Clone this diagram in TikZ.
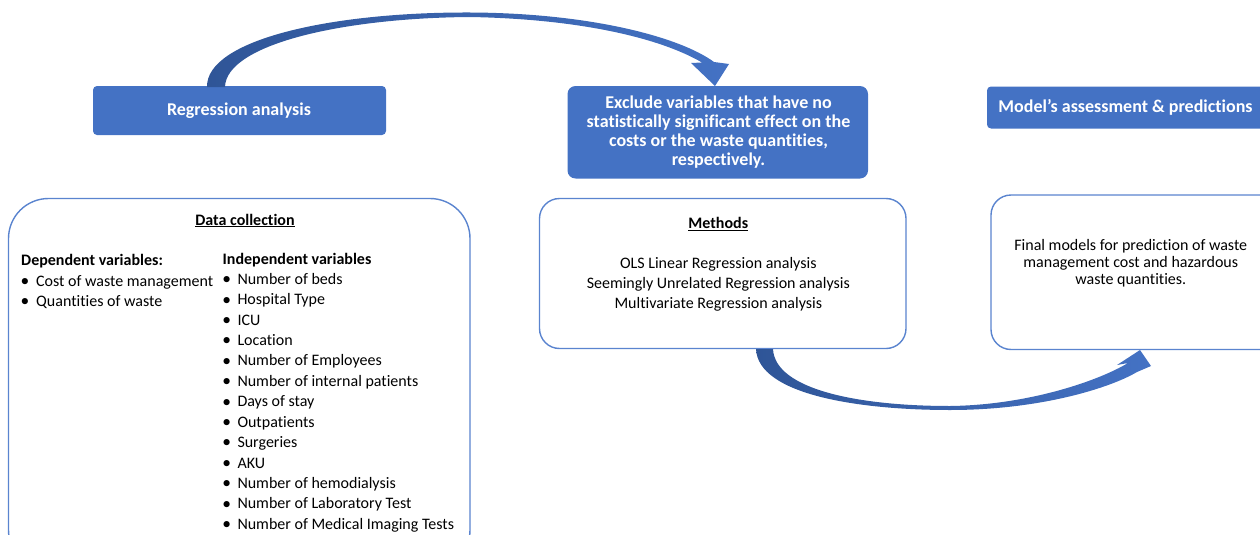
\documentclass[tikz,border=0pt]{standalone}
\usepackage{fontspec}
\setmainfont{Carlito}[Ligatures=NoCommon]
\definecolor{boxblue}{HTML}{4472C4}
\definecolor{lineblue}{HTML}{5A84CF}
\definecolor{arrdark}{HTML}{2F5597}
\definecolor{arrlight}{HTML}{4472C4}
\begin{document}
\begin{tikzpicture}[x=1pt,y=-1pt,
  fillbox/.style={fill=boxblue, draw=none, inner sep=0pt, outer sep=0pt},
  framebox/.style={draw=lineblue, line width=1.4pt, fill=white, inner sep=0pt},
  txt/.style={inner sep=0pt, anchor=base, font=\fontsize{16}{19}\selectfont},
  wtxt/.style={txt, text=white, font=\fontsize{18}{20}\selectfont\bfseries},
  ltxt/.style={txt, anchor=base west},
  bul/.style={txt, anchor=base, font=\fontsize{17.5}{19}\selectfont},
  blockarrow/.style={left color=arrdark, right color=arrlight, draw=none}
]
\useasboundingbox (0,0) rectangle (1260,535);
\clip (0,0) rectangle (1260,535);

% ---------- header boxes ----------
\node[fillbox, rounded corners=4pt, minimum width=293pt, minimum height=49pt] (reg) at (239.5,110.5) {};
\node[wtxt] (regt) at (239,115.5) {Regression analysis};

\node[fillbox, rounded corners=8pt, minimum width=300.5pt, minimum height=92.5pt] (excl) at (717.75,132.25) {};
\node[wtxt] (ex1) at (718.5,108.3) {Exclude variables that have no};
\node[wtxt] (ex2) at (718.5,127.5) {statistically significant effect on the};
\node[wtxt] (ex3) at (718.5,146.7) {costs or the waste quantities,};
\node[wtxt] (ex4) at (718.5,165.9) {respectively.};

\node[fillbox, rounded corners=4pt, minimum width=288pt, minimum height=42pt] (model) at (1131,107.5) {};
\node[wtxt] (modelt) at (1125.5,112) {Model’s assessment \& predictions};

% ---------- framed boxes ----------
\node[framebox, rounded corners=40pt, minimum width=461.5pt, minimum height=371.5pt] (data) at (239.25,384.25) {};
\node[framebox, rounded corners=20pt, minimum width=366.5pt, minimum height=150pt] (meth) at (722.75,273.5) {};
\node[framebox, rounded corners=20pt, minimum width=299pt, minimum height=154.5pt] (final) at (1140.5,272.25) {};

% ---------- data collection ----------
\node[txt, font=\fontsize{16}{19}\selectfont\bfseries] (dct) at (245,225) {\underline{Data collection}};
\node[ltxt, font=\fontsize{16}{19}\selectfont\bfseries] (dep) at (21,265) {Dependent variables:};
\node[bul] (db1) at (25,286.3) {\textbullet};
\node[ltxt] (d1) at (36,286) {Cost of waste management};
\node[bul] (db2) at (25,306.7) {\textbullet};
\node[ltxt] (d2) at (36,306.4) {Quantities of waste};

\node[ltxt, font=\fontsize{16}{19}\selectfont\bfseries] (indep) at (222.5,264) {Independent variables};
\foreach \t [count=\i] in {Number of beds, Hospital Type, ICU, Location, Number of Employees,
  Number of internal patients, Days of stay, Outpatients, Surgeries, AKU,
  Number of hemodialysis, Number of Laboratory Test, Number of Medical Imaging Tests}{
  \node[bul] (ib\i) at (226.7,{284.6+20.42*(\i-1)}) {\textbullet};
  \node[ltxt] (iv\i) at (237.3,{284.3+20.42*(\i-1)}) {\t};
}

% ---------- methods ----------
\node[txt, font=\fontsize{16}{19}\selectfont\bfseries] (metht) at (718.3,228.3) {\underline{Methods}};
\node[txt] (m1) at (718.3,268.3) {OLS Linear Regression analysis};
\node[txt] (m2) at (718.3,288.3) {Seemingly Unrelated Regression analysis};
\node[txt] (m3) at (718.3,308.3) {Multivariate Regression analysis};

% ---------- final ----------
\node[txt] (f1) at (1130.8,250) {Final models for prediction of waste};
\node[txt] (f2) at (1130.8,267.3) {management cost and hazardous};
\node[txt] (f3) at (1130.8,284.6) {waste quantities.};

% ---------- curved block arrows ----------
\shade[blockarrow]
  (207,87) .. controls (206,40) and (330,12) .. (470,12.5)
  .. controls (590,13) and (680,37) .. (714,62)
  -- (729,64) -- (715,86) -- (691,63) -- (702,62.5)
  .. controls (660,38) and (580,19) .. (470,17)
  .. controls (340,18) and (226,45) .. (225,87) -- cycle;

\shade[blockarrow]
  (756,349) .. controls (758,395) and (860,410) .. (950,410)
  .. controls (1040,410) and (1110,388) .. (1137,372)
  -- (1151,366) -- (1140,350) -- (1117,365) -- (1128,363)
  .. controls (1100,380) and (1030,405) .. (950,406)
  .. controls (860,406) and (775,390) .. (773,349) -- cycle;
\end{tikzpicture}
\end{document}
